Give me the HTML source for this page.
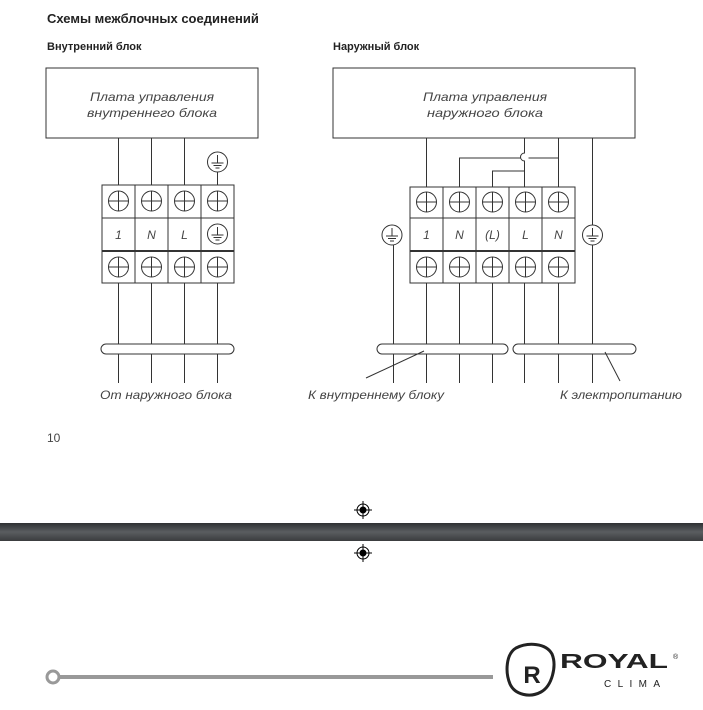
<!DOCTYPE html>
<html><head><meta charset="utf-8"><style>
body{margin:0;background:#fff;width:703px;height:710px;overflow:hidden;position:relative;font-family:"Liberation Sans","Noto Sans CJK SC",sans-serif}
.t{position:absolute;color:#222;white-space:nowrap}
</style></head><body>
<div class="t" style="left:47px;top:11px;font-size:13px;font-weight:bold">Схемы межблочных соединений</div>
<div class="t" style="left:47px;top:41px;font-size:11px;font-weight:bold">Внутренний блок</div>
<div class="t" style="left:333px;top:41px;font-size:11px;font-weight:bold">Наружный блок</div>
<div class="t" style="left:47px;top:431px;font-size:12px;color:#444">10</div>
<svg width="703" height="710" style="position:absolute;left:0;top:0" font-family="Liberation Sans, sans-serif">
<defs>
<g id="sc"><circle r="10" fill="#fff" stroke="#333" stroke-width="1"/><line x1="-10" x2="10" stroke="#333"/><line y1="-10" y2="10" stroke="#333"/></g>
<g id="gr"><circle r="10" fill="#fff" stroke="#333" stroke-width="1"/><line y1="-7" y2="1" stroke="#333"/><line x1="-6" x2="6" y1="1" y2="1" stroke="#333"/><line x1="-4" x2="4" y1="3.5" y2="3.5" stroke="#333"/><line x1="-2" x2="2" y1="6" y2="6" stroke="#333"/></g>
<linearGradient id="bar" x1="0" y1="0" x2="0" y2="1"><stop offset="0" stop-color="#2e3033"/><stop offset="0.5" stop-color="#5a5d60"/><stop offset="1" stop-color="#3a3c3e"/></linearGradient>
</defs>
<g stroke="#333" stroke-width="1" fill="none">
<rect x="46" y="68" width="212" height="70"/>
<line x1="118.5" y1="138" x2="118.5" y2="383"/><line x1="151.5" y1="138" x2="151.5" y2="383"/><line x1="184.5" y1="138" x2="184.5" y2="383"/><line x1="217.5" y1="172" x2="217.5" y2="383"/>
<rect x="102" y="185" width="132" height="98" fill="#fff"/>
<line x1="102" y1="218" x2="234" y2="218"/><line x1="102" y1="251" x2="234" y2="251" stroke-width="2"/>
<line x1="135" y1="185" x2="135" y2="283"/><line x1="168" y1="185" x2="168" y2="283"/><line x1="201" y1="185" x2="201" y2="283"/>
<rect x="101" y="344" width="133" height="10" rx="5" fill="#fff"/>
<rect x="333" y="68" width="302" height="70"/>
<line x1="426.5" y1="138" x2="426.5" y2="383"/>
<line x1="558.5" y1="138" x2="558.5" y2="383"/>
<path d="M524.5 138V153a4 4 0 0 0 0 8V383"/>
<path d="M459.5 383V158H520.5M528.5 158H558.5"/>
<path d="M492.5 383V171H524.5"/>
<line x1="592.5" y1="138" x2="592.5" y2="383"/>
<line x1="393.5" y1="235" x2="393.5" y2="383"/>
<rect x="410" y="187" width="165" height="96" fill="#fff"/>
<line x1="410" y1="218" x2="575" y2="218"/><line x1="410" y1="251" x2="575" y2="251" stroke-width="2"/>
<line x1="443" y1="187" x2="443" y2="283"/><line x1="476" y1="187" x2="476" y2="283"/><line x1="509" y1="187" x2="509" y2="283"/><line x1="542" y1="187" x2="542" y2="283"/>
<rect x="377" y="344" width="131" height="10" rx="5" fill="#fff"/>
<rect x="513" y="344" width="123" height="10" rx="5" fill="#fff"/>
<line x1="424" y1="351" x2="366" y2="378"/>
<line x1="605" y1="352" x2="620" y2="381"/>
</g>
<use href="#gr" x="217.5" y="162"/>
<use href="#sc" x="118.5" y="201"/><use href="#sc" x="151.5" y="201"/><use href="#sc" x="184.5" y="201"/><use href="#sc" x="217.5" y="201"/>
<use href="#sc" x="118.5" y="267"/><use href="#sc" x="151.5" y="267"/><use href="#sc" x="184.5" y="267"/><use href="#sc" x="217.5" y="267"/>
<use href="#gr" x="217.5" y="234"/>
<use href="#sc" x="426.5" y="202"/><use href="#sc" x="459.5" y="202"/><use href="#sc" x="492.5" y="202"/><use href="#sc" x="525.5" y="202"/><use href="#sc" x="558.5" y="202"/>
<use href="#sc" x="426.5" y="267"/><use href="#sc" x="459.5" y="267"/><use href="#sc" x="492.5" y="267"/><use href="#sc" x="525.5" y="267"/><use href="#sc" x="558.5" y="267"/>
<use href="#gr" x="392" y="235"/><use href="#gr" x="592.5" y="235"/>
<g font-style="italic" font-size="12" fill="#444" text-anchor="middle">
<text x="152" y="101" textLength="124" lengthAdjust="spacingAndGlyphs">Плата управления</text><text x="152" y="117" textLength="130" lengthAdjust="spacingAndGlyphs">внутреннего блока</text>
<text x="485" y="101" textLength="124" lengthAdjust="spacingAndGlyphs">Плата управления</text><text x="485" y="117" textLength="116" lengthAdjust="spacingAndGlyphs">наружного блока</text>
<text x="118.5" y="239">1</text><text x="151.5" y="239">N</text><text x="184.5" y="239">L</text>
<text x="426.5" y="239">1</text><text x="459.5" y="239">N</text><text x="492.5" y="239">(L)</text><text x="525.5" y="239">L</text><text x="558.5" y="239">N</text>
<text x="166" y="399" textLength="132" lengthAdjust="spacingAndGlyphs">От наружного блока</text>
<text x="376" y="399" textLength="136" lengthAdjust="spacingAndGlyphs">К внутреннему блоку</text>
<text x="621" y="399" textLength="122" lengthAdjust="spacingAndGlyphs">К электропитанию</text>
</g>
<rect x="0" y="523" width="703" height="18" fill="url(#bar)"/>
<g stroke="#000" stroke-width="1"><circle cx="363" cy="510" r="6" fill="#fff"/><line x1="363" y1="501" x2="363" y2="519"/><line x1="354" y1="510" x2="372" y2="510"/>
<circle cx="363" cy="553" r="6" fill="#fff"/><line x1="363" y1="544" x2="363" y2="562"/><line x1="354" y1="553" x2="372" y2="553"/></g>
<circle cx="363" cy="510" r="3.5" fill="#000"/><circle cx="363" cy="553" r="3.5" fill="#000"/>
<circle cx="53" cy="677" r="6" fill="#fff" stroke="#999" stroke-width="3"/>
<rect x="58" y="675" width="435" height="4" fill="#999"/>
<path d="M516 648c12-6 30-5 36 6c5 12 0 32-11 38c-11 6-26 3-31-8c-5-12-4-30 6-36z" fill="none" stroke="#222" stroke-width="3"/>
<text x="532" y="683" font-size="24" font-weight="bold" fill="#222" text-anchor="middle">R</text>
<text x="560" y="668" font-size="20" font-weight="bold" fill="#222" textLength="108" lengthAdjust="spacingAndGlyphs">ROYAL</text>
<text x="673" y="659" font-size="7" fill="#222">®</text>
<text x="604" y="687" font-size="10" fill="#222" textLength="56" lengthAdjust="spacing">CLIMA</text>
</svg>
</body></html>
